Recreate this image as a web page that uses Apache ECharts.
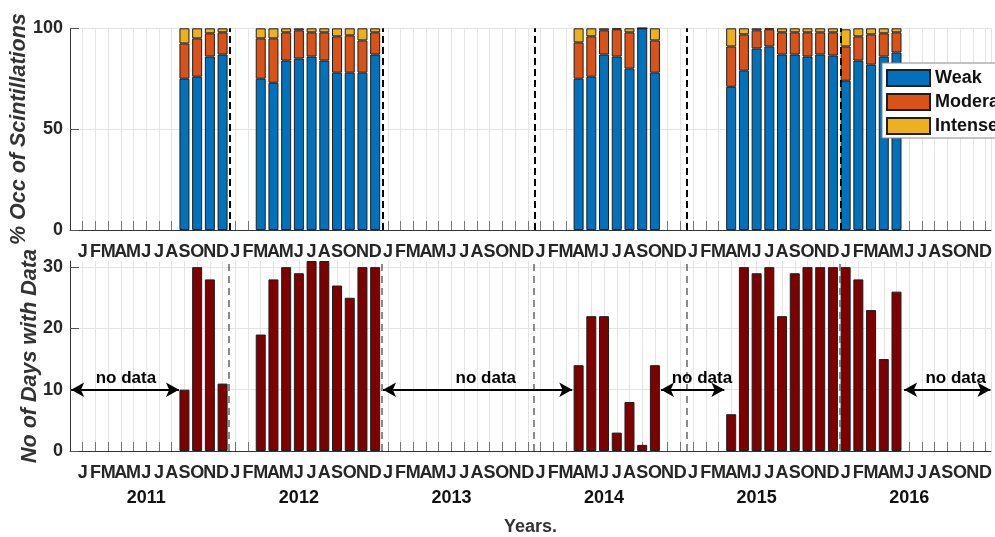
<!DOCTYPE html>
<html><head><meta charset="utf-8">
<script src="https://cdn.jsdelivr.net/npm/echarts@6/dist/echarts.min.js"></script>
<style>html,body{margin:0;padding:0;background:#fff}#c{width:995px;height:537px}</style>
</head><body><div id="c"></div>
<script>
// ---------- data ----------
const monthLetters = ['J','F','M','A','M','J','J','A','S','O','N','D'];
const years = [2011, 2012, 2013, 2014, 2015, 2016];
const obsMonths = [
  '2011-09','2011-10','2011-11','2011-12',
  '2012-03','2012-04','2012-05','2012-06','2012-07','2012-08','2012-09','2012-10','2012-11','2012-12',
  '2014-04','2014-05','2014-06','2014-07','2014-08','2014-09','2014-10',
  '2015-04','2015-05','2015-06','2015-07','2015-08','2015-09','2015-10','2015-11','2015-12',
  '2016-01','2016-02','2016-03','2016-04','2016-05'
];
const weakPct = [75, 76, 86, 87,
  75, 73, 84, 85, 86, 84, 78, 78, 78, 87,
  75, 76, 87, 86, 80, 100, 78,
  71, 79, 90, 91, 87, 87, 86, 87, 86.5,
  74, 84, 82, 86, 88];
const moderatePct = [17.5, 19, 11.5, 11,
  20, 22, 14, 14, 12, 14, 18, 18.5, 16, 11,
  18, 20, 12, 13.5, 18, 0, 16,
  20, 18, 9, 8.5, 11, 11, 12, 11, 11.5,
  17, 12, 15, 11.5, 10];
const intensePct = [7.5, 5, 2.5, 2,
  5, 5, 2, 1, 2, 2, 4, 3.5, 6, 2,
  7, 4, 1, 0.5, 2, 0, 6,
  9, 3, 1, 0.5, 2, 2, 2, 2, 2,
  8.5, 4, 3, 2.5, 2];
const daysWithData = [10, 30, 28, 11,
  19, 28, 30, 29, 31, 31, 27, 25, 30, 30,
  14, 22, 22, 3, 8, 1, 14,
  6, 30, 29, 30, 22, 29, 30, 30, 30,
  30, 28, 23, 15, 26];
const yTicksTop = [0, 50, 100];
const yTicksBottom = [0, 10, 20, 30];

// ---------- helpers ----------
const monthIndex = s => { const [y, m] = s.split('-').map(Number); return (y - years[0]) * 12 + (m - 1); };
const xIdx = obsMonths.map(monthIndex);
// value first, month index second (encode maps them) so the stack is on the value
const pairs = vals => xIdx.map((x, i) => [vals[i], x]);

const NARROW = '"Liberation Sans Narrow", "Arial Narrow", "Liberation Sans", sans-serif';
const REG = '"Liberation Sans", Arial, sans-serif';
const TXT = '#262626';
const nMonths = years.length * 12;
const X_MIN = -1, X_MAX = 71.43;

const isInt = v => Math.abs(v - Math.round(v)) < 1e-6;

function monthAxis(grid) {
  return {
    type: 'value', gridIndex: grid, min: X_MIN, max: X_MAX, interval: 1,
    axisLine: { show: true, onZero: false, lineStyle: { color: '#333', width: 1 } },
    axisTick: { show: true, inside: true, length: 9, lineStyle: { color: '#777' } },
    splitLine: { show: true, lineStyle: { color: '#e4e4e4', width: 1 } },
    axisLabel: {
      showMinLabel: false, showMaxLabel: false, margin: 13,
      fontFamily: NARROW, fontWeight: 'bold', fontSize: 18, color: TXT,
      formatter: v => (isInt(v) && v >= 0 && v < nMonths) ? monthLetters[Math.round(v) % 12] : ''
    }
  };
}

const yearAxis = {
  type: 'value', gridIndex: 1, min: X_MIN, max: X_MAX, interval: 1, position: 'bottom',
  axisLine: { show: false, onZero: false }, axisTick: { show: false }, splitLine: { show: false },
  axisLabel: {
    showMinLabel: false, showMaxLabel: false, margin: 38,
    fontFamily: NARROW, fontWeight: 'bold', fontSize: 18, color: '#111',
    formatter: v => { if (!isInt(v)) return ''; const r = Math.round(v); return (r >= 0 && r % 12 === 5) ? String(years[Math.floor(r / 12)]) : ''; }
  },
  name: 'Years.', nameLocation: 'middle', nameGap: 67, nameMoveOverlap: false,
  nameTextStyle: { fontFamily: REG, fontWeight: 'bold', fontSize: 18, color: '#333' }
};

function yAxis(grid, max, interval, ticks, name, gap) {
  return {
    type: 'value', gridIndex: grid, min: 0, max: max, interval: interval,
    axisLine: { show: true, onZero: false, lineStyle: { color: '#333' } },
    axisTick: { show: true, inside: true, length: 9, lineStyle: { color: '#555' } },
    splitLine: { show: true, showMaxLine: ticks.includes(max), lineStyle: { color: '#e4e4e4' } },
    axisLabel: {
      margin: 7, showMaxLabel: ticks.includes(max),
      fontFamily: NARROW, fontWeight: 'bold', fontSize: 18, color: TXT,
      formatter: v => ticks.includes(v) ? String(v) : ''
    },
    name: name, nameLocation: 'middle', nameRotate: 90, nameGap: gap, nameMoveOverlap: false,
    nameTextStyle: { fontFamily: REG, fontWeight: 'bold', fontStyle: 'italic', fontSize: 21.5, color: '#333' }
  };
}

const barBorder = { borderColor: '#1e1e1e', borderWidth: 1 };
const topDash = [11.55, 23.62, 35.55, 47.5, 59.63];
const botDash = [11.5, 23.5, 35.5, 47.5, 59.5];
const arrows = [[-0.91, 7.57], [23.62, 38.5], [45.48, 50.46], [64.6, 71.39]];
const noDataText = [3.4, 31.7, 48.7, 68.65];
const enc = { x: 1, y: 0 };

const option = {
  animation: false,
  backgroundColor: '#fff',
  grid: [
    { left: 70, right: 0, top: 28.3, height: 201.7, containLabel: false },
    { left: 70, right: 0, top: 261, height: 191.7, containLabel: false }
  ],
  xAxis: [monthAxis(0), monthAxis(1), yearAxis],
  yAxis: [
    yAxis(0, 100, 50, yTicksTop, '% Occ of Scintillations', 40),
    yAxis(1, 31, 10, yTicksBottom, 'No of Days with Data', 29)
  ],
  legend: {
    data: ['Weak', 'Moderate', 'Intense'], orient: 'vertical', left: 882, top: 63,
    itemWidth: 43, itemHeight: 16, itemGap: 6, padding: [6, 20, 3, 4],
    backgroundColor: '#fff', borderColor: '#888', borderWidth: 1, icon: 'rect', selectedMode: false,
    textStyle: { fontFamily: NARROW, fontWeight: 'bold', fontSize: 18, color: '#111' }
  },
  series: [
    { name: 'Weak', type: 'bar', xAxisIndex: 0, yAxisIndex: 0, stack: 'occ', barWidth: 10, encode: enc,
      data: pairs(weakPct), itemStyle: Object.assign({ color: '#0072BD' }, barBorder) },
    { name: 'Moderate', type: 'bar', xAxisIndex: 0, yAxisIndex: 0, stack: 'occ', barWidth: 10, encode: enc,
      data: pairs(moderatePct), itemStyle: Object.assign({ color: '#D95319' }, barBorder) },
    { name: 'Intense', type: 'bar', xAxisIndex: 0, yAxisIndex: 0, stack: 'occ', barWidth: 10, encode: enc,
      data: pairs(intensePct), itemStyle: Object.assign({ color: '#EDB120' }, barBorder) },
    { name: 'topDash', type: 'line', xAxisIndex: 0, yAxisIndex: 0, data: [], z: 10,
      markLine: {
        silent: true, symbol: ['none', 'none'], label: { show: false },
        lineStyle: { color: '#000', width: 2, type: [7, 4] },
        data: topDash.map(x => [{ coord: [x, 0] }, { coord: [x, 100] }])
      } },
    { name: 'Days', type: 'bar', xAxisIndex: 1, yAxisIndex: 1, barWidth: 10, encode: enc,
      data: pairs(daysWithData), itemStyle: Object.assign({ color: '#7E0000' }, barBorder),
      markLine: {
        silent: true, symbol: ['arrow', 'arrow'], symbolSize: [11, 13], label: { show: false }, z: 10,
        lineStyle: { color: '#000', width: 2, type: 'solid' },
        data: arrows.map(a => [{ coord: [a[0], 10] }, { coord: [a[1], 10] }])
      },
      markPoint: {
        silent: true, symbol: 'circle', symbolSize: 0,
        label: { show: true, position: 'top', distance: 3, formatter: 'no data',
          fontFamily: REG, fontWeight: 'bold', fontSize: 17, color: '#000' },
        data: noDataText.map(x => ({ coord: [x, 10] }))
      } },
    { name: 'dash', type: 'line', xAxisIndex: 1, yAxisIndex: 1, data: [],
      markLine: {
        silent: true, symbol: ['none', 'none'], label: { show: false },
        lineStyle: { color: '#666', width: 1.5, type: [7, 5] },
        data: botDash.map(x => [{ coord: [x, 0] }, { coord: [x, 31] }])
      } }
  ]
};

const chart = echarts.init(document.getElementById('c'), null, { renderer: 'canvas' });
chart.setOption(option);
</script>
</body></html>
